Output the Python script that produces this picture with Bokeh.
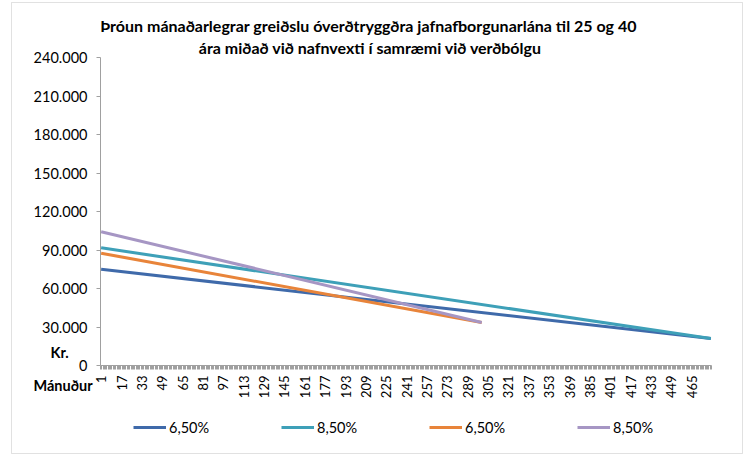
import math
from bokeh.plotting import figure
from bokeh.models import (Range1d, FixedTicker, Legend, LegendItem, Label, BoxAnnotation)
from bokeh.embed import file_html
from bokeh.resources import INLINE

# ---- data ----
series_names = ["6,50%", "8,50%", "6,50%", "8,50%"]
series_months = [[1, 480], [1, 480], [1, 300], [1, 300]]
series_values = [[75000, 20950], [91700, 20980], [87500, 33500], [104200, 33570]]
series_colors = ["#3f6aaa", "#3ea0b8", "#e8843a", "#a696c4"]

y_ticks = [0, 30000, 60000, 90000, 120000, 150000, 180000, 210000, 240000]
y_tick_labels = ["0", "30.000", "60.000", "90.000", "120.000", "150.000",
                 "180.000", "210.000", "240.000"]
x_tick_labels = ["1", "17", "33", "49", "65", "81", "97", "113", "129", "145",
                 "161", "177", "193", "209", "225", "241", "257", "273", "289",
                 "305", "321", "337", "353", "369", "385", "401", "417", "433",
                 "449", "465"]
n_months = 480
y_max = 240000

title_lines = ["Þróun mánaðarlegrar greiðslu óverðtryggðra jafnafborgunarlána  til 25 og 40",
               "ára miðað við nafnvexti í samræmi við verðbólgu"]
y_unit_label = "Kr."
x_unit_label = "Mánuður"

FONT = "Lato"

# ---- layout (pixels on the 745x457 canvas) ----
W, H = 745, 457
PLOT_L, PLOT_R, PLOT_T, PLOT_B = 100, 711, 57, 365
x_lo, x_hi = 0.5, n_months + 0.5
sx = (x_hi - x_lo) / (PLOT_R - PLOT_L)
sy = y_max / (PLOT_B - PLOT_T)


def X(px):
    return x_lo + (px - PLOT_L) * sx


def Y(py):
    return (PLOT_B - py) * sy


p = figure(width=W, height=H, output_backend="svg", toolbar_location=None, title=None,
           x_range=Range1d(X(0), X(W)), y_range=Range1d(Y(H), Y(0)),
           min_border=0, min_border_left=0, min_border_right=0,
           min_border_top=0, min_border_bottom=0)

p.xgrid.visible = False
p.ygrid.visible = False
p.outline_line_color = None

# chart border
p.add_layout(BoxAnnotation(left=X(11), right=X(742), top=Y(2), bottom=Y(453),
                           fill_alpha=0, line_color="#9c9c9c", line_width=1))

# y axis
p.yaxis.fixed_location = x_lo
p.yaxis.bounds = (0, y_max)
p.yaxis.ticker = FixedTicker(ticks=y_ticks)
p.yaxis.major_label_overrides = {t: l for t, l in zip(y_ticks, y_tick_labels)}
p.yaxis.axis_line_color = "#a0a0a0"
p.yaxis.major_tick_line_color = "#a0a0a0"
p.yaxis.major_tick_out = 4
p.yaxis.major_tick_in = 0
p.yaxis.minor_tick_line_color = None
p.yaxis.major_label_text_font = FONT
p.yaxis.major_label_text_font_size = "14.5px"
p.yaxis.major_label_text_color = "#000000"
p.yaxis.major_label_standoff = 9

# x axis
x_tick_pos = [int(s) for s in x_tick_labels]
p.xaxis.fixed_location = 0
p.xaxis.bounds = (x_lo, x_hi)
p.xaxis.ticker = FixedTicker(ticks=x_tick_pos,
                             minor_ticks=[m + 0.5 for m in range(0, n_months + 1)])
p.xaxis.major_label_overrides = {t: l for t, l in zip(x_tick_pos, x_tick_labels)}
p.xaxis.major_label_orientation = math.pi / 2
p.xaxis.axis_line_color = "#a0a0a0"
p.xaxis.major_tick_line_color = None
p.xaxis.major_tick_out = 6
p.xaxis.minor_tick_line_color = "#a0a0a0"
p.xaxis.minor_tick_out = 4
p.xaxis.minor_tick_in = 0
p.xaxis.major_label_text_font = FONT
p.xaxis.major_label_text_font_size = "13px"
p.xaxis.major_label_text_color = "#000000"
p.xaxis.major_label_standoff = 4

items = []
for name, xs, ys, col in zip(series_names, series_months, series_values, series_colors):
    r = p.line(xs, ys, line_color=col, line_width=3)
    items.append(LegendItem(label=name, renderers=[r]))

legend = Legend(items=items, orientation="horizontal", location=(133, 20),
                glyph_width=33, glyph_height=20, label_standoff=3, spacing=0,
                label_width=112, label_height=20,
                label_text_font=FONT, label_text_font_size="14.5px",
                label_text_color="#000000",
                border_line_color=None, background_fill_alpha=0,
                padding=0, margin=0)
p.add_layout(legend, "center")

# titles and axis captions
for line, ty in zip(title_lines, [25, 47]):
    p.add_layout(Label(x=X(370), y=Y(ty), text=line, text_font=FONT,
                       text_font_size="16px", text_font_style="bold",
                       text_color="#000000", text_align="center",
                       text_baseline="middle"))
p.add_layout(Label(x=X(50), y=Y(352), text=y_unit_label, text_font=FONT,
                   text_font_size="14.5px", text_font_style="bold",
                   text_color="#000000", text_align="left", text_baseline="middle"))
p.add_layout(Label(x=X(33), y=Y(385), text=x_unit_label, text_font=FONT,
                   text_font_size="14.5px", text_font_style="bold",
                   text_color="#000000", text_align="left", text_baseline="middle"))

open("out.html", "w").write(file_html(p, INLINE))
